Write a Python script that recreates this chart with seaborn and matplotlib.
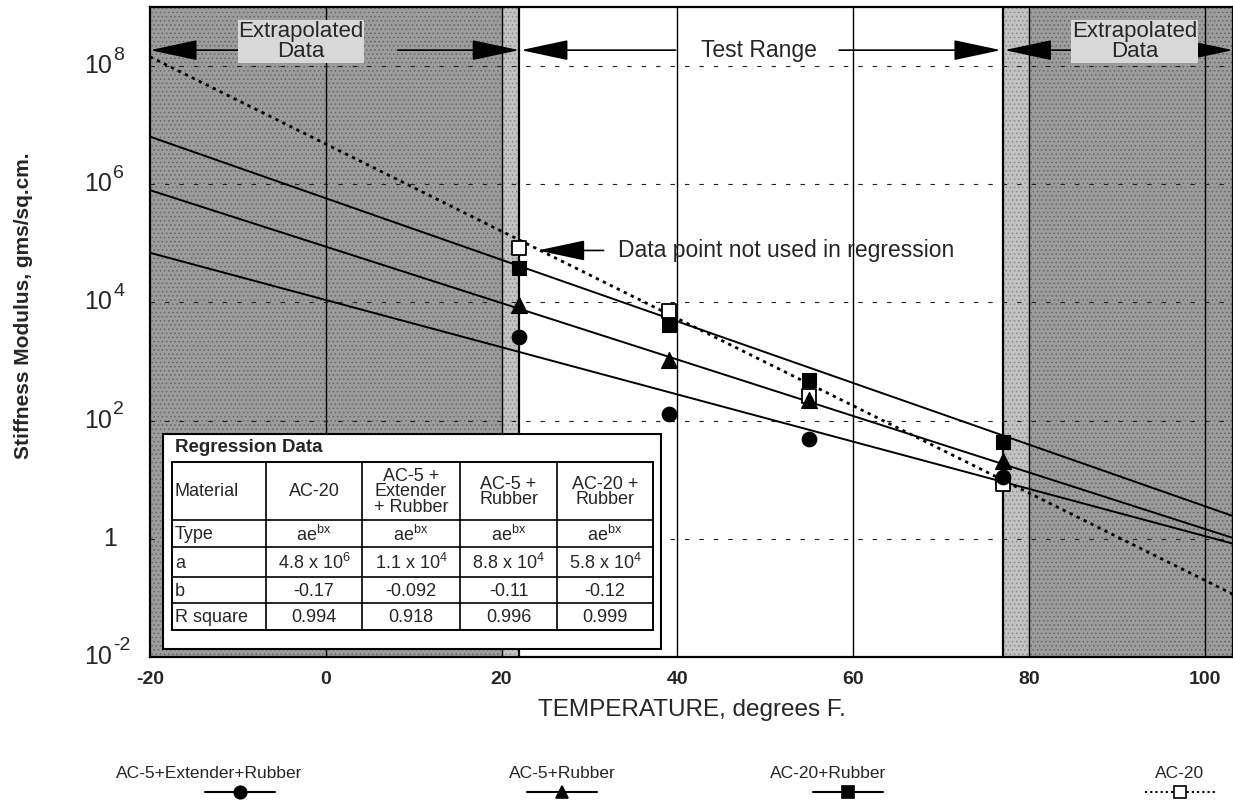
import numpy as np
import pandas as pd
import matplotlib
matplotlib.use("Agg")
import matplotlib.pyplot as plt
import seaborn as sns
from matplotlib.lines import Line2D
from matplotlib.patches import Rectangle
from matplotlib.ticker import FixedLocator, NullFormatter, LogLocator, MultipleLocator

# ---------------- data ----------------
temps = [22, 39, 55, 77]
ext_rubber = [2600, 130, 49, 11]          # AC-5+Extender+Rubber (filled circle)
ac5_rubber = [8900, 1050, 220, 21]        # AC-5+Rubber (filled triangle)
ac20_rubber = [39000, 4100, 480, 43]      # AC-20+Rubber (filled square)
ac20 = [85000, 7200, 260, 8.5]            # AC-20 (open square)

materials = ["AC-5+Extender+Rubber", "AC-5+Rubber", "AC-20+Rubber", "AC-20"]
fit_a = [1.1e4, 8.8e4, 5.8e5, 4.8e6]      # regression lines y = a*exp(b*x)
fit_b = [-0.092, -0.11, -0.12, -0.17]

x_ticks = [-20, 0, 20, 40, 60, 80, 100]
y_tick_vals = [1e-2, 1, 1e2, 1e4, 1e6, 1e8]
y_tick_base = ["10", "1", "10", "10", "10", "10"]
y_tick_exp = ["-2", "", "2", "4", "6", "8"]

table_title = "Regression Data"
table_cols = ["Material", "AC-20", "AC-5 +\nExtender\n+ Rubber", "AC-5 +\nRubber", "AC-20 +\nRubber"]
table_rows = [
    ["Type", "ae$^{bx}$", "ae$^{bx}$", "ae$^{bx}$", "ae$^{bx}$"],
    ["a", "4.8 x 10$^{6}$", "1.1 x 10$^{4}$", "8.8 x 10$^{4}$", "5.8 x 10$^{4}$"],
    ["b", "-0.17", "-0.092", "-0.11", "-0.12"],
    ["R square", "0.994", "0.918", "0.996", "0.999"],
]

# ---------------- style ----------------
sns.set_theme(style="white")
plt.rcParams["font.family"] = ["Liberation Sans", "DejaVu Sans"]
plt.rcParams["mathtext.fontset"] = "custom"
plt.rcParams["mathtext.rm"] = "Liberation Sans"
plt.rcParams["mathtext.it"] = "Liberation Sans"
plt.rcParams["mathtext.bf"] = "Liberation Sans:bold"
plt.rcParams["axes.unicode_minus"] = False
plt.rcParams["hatch.linewidth"] = 0.6

W, H = 1233, 802
fig = plt.figure(figsize=(W / 100, H / 100), dpi=100)
ax = fig.add_axes([150 / W, 1 - 657 / H, (W - 150) / W, 650 / H])

XMIN, XMAX = -20, 103.2
ax.set_xlim(XMIN, XMAX)
ax.set_yscale("log")
ax.set_ylim(1e-2, 1e9)

# shaded extrapolation zones
dark, light, hcol = "#9c9c9c", "#c2c2c2", "#666666"
ax.axvspan(XMIN, 20, facecolor=dark, edgecolor=hcol, hatch="....", lw=0, zorder=0)
ax.axvspan(20, 22, facecolor=light, edgecolor="#8a8a8a", hatch="....", lw=0, zorder=0)
ax.axvspan(77, 80, facecolor=light, edgecolor="#8a8a8a", hatch="....", lw=0, zorder=0)
ax.axvspan(80, XMAX, facecolor=dark, edgecolor=hcol, hatch="....", lw=0, zorder=0)

# grid lines
for xv in [0, 20, 40, 60, 80, 100]:
    ax.axvline(xv, color="black", lw=1.0, zorder=1)
for xv in [22, 77]:
    ax.axvline(xv, color="black", lw=1.6, zorder=1)
for yv in [1, 1e2, 1e4, 1e6, 1e8]:
    ax.axhline(yv, color="#222222", lw=0.8, ls=(0, (4, 9)), zorder=1)

# regression lines
xfit = np.linspace(XMIN, XMAX, 300)
line_styles = ["-", "-", "-", (0, (1.2, 1.6))]
line_widths = [1.4, 1.4, 1.4, 2.0]
for a, b, lsty, lw in zip(fit_a, fit_b, line_styles, line_widths):
    df_fit = pd.DataFrame({"T": xfit, "S": a * np.exp(b * xfit)})
    sns.lineplot(data=df_fit, x="T", y="S", ax=ax, color="black", lw=lw,
                 linestyle=lsty, zorder=3)

# data points
sns.scatterplot(x=temps, y=ac20, ax=ax, marker="s", s=110, facecolor="white",
                edgecolor="black", linewidth=1.3, zorder=4)
sns.scatterplot(x=temps, y=ac20_rubber, ax=ax, marker="s", s=95, color="black",
                edgecolor="black", zorder=5)
sns.scatterplot(x=temps, y=ac5_rubber, ax=ax, marker="^", s=130, color="black",
                edgecolor="black", zorder=5)
sns.scatterplot(x=temps, y=ext_rubber, ax=ax, marker="o", s=110, color="black",
                edgecolor="black", zorder=5)

# axes, ticks
ax.set_xticks(x_ticks)
ax.set_xticklabels([str(t) for t in x_ticks], fontsize=14, fontweight="bold")
ax.xaxis.set_minor_locator(MultipleLocator(10))
ax.yaxis.set_minor_locator(LogLocator(base=10, subs=np.arange(2, 10), numticks=100))
ax.yaxis.set_minor_formatter(NullFormatter())
decades = [10.0 ** k for k in range(-2, 10)]
ax.yaxis.set_major_locator(FixedLocator(decades))
ax.set_yticks(decades)
ax.set_yticklabels([""] * len(decades))
ytrans = ax.get_yaxis_transform()
for v, base, ex in zip(y_tick_vals, y_tick_base, y_tick_exp):
    if ex:
        ax.annotate(base, xy=(0, v), xycoords=ytrans, xytext=(-38, 0),
                    textcoords="offset pixels", ha="right", va="center", fontsize=18,
                    annotation_clip=False)
        ax.annotate(ex, xy=(0, v), xycoords=ytrans, xytext=(-37, 11),
                    textcoords="offset pixels", ha="left", va="center", fontsize=14,
                    annotation_clip=False)
    else:
        ax.annotate(base, xy=(0, v), xycoords=ytrans, xytext=(-33, 0),
                    textcoords="offset pixels", ha="right", va="center", fontsize=18,
                    annotation_clip=False)
ax.tick_params(axis="both", which="major", direction="in", length=8, width=1.2, color="black")
ax.tick_params(axis="both", which="minor", direction="in", length=4, width=1.0, color="black")
ax.tick_params(axis="x", which="major", pad=10)
for sp in ax.spines.values():
    sp.set_color("black")
    sp.set_linewidth(1.6)

ax.set_xlabel("TEMPERATURE, degrees F.", fontsize=17.5, labelpad=8)
ax.set_ylabel("Stiffness Modulus, gms/sq.cm.", fontsize=15, fontweight="bold")
ax.yaxis.set_label_coords(-0.108, 0.54)

# annotations
arrow_kw = dict(arrowstyle="-|>,head_length=1.5,head_width=0.32", color="black", lw=1.2,
                mutation_scale=20, shrinkA=0, shrinkB=0)
ya = 10 ** 8.27
ax.annotate("", xy=(XMIN, ya), xytext=(-8.0, ya), arrowprops=arrow_kw, zorder=6)
ax.annotate("", xy=(22, ya), xytext=(8.2, ya), arrowprops=arrow_kw, zorder=6)
ax.text(-2.8, 10 ** 8.42, "Extrapolated\nData", ha="center", va="center", fontsize=16,
        linespacing=0.95, bbox=dict(facecolor="#d8d8d8", edgecolor="none", pad=0.5), zorder=6)
ax.annotate("", xy=(22.2, ya), xytext=(39.8, ya), arrowprops=arrow_kw, zorder=6)
ax.annotate("", xy=(76.8, ya), xytext=(58.4, ya), arrowprops=arrow_kw, zorder=6)
ax.text(49.3, ya, "Test Range", ha="center", va="center", fontsize=16.5, zorder=6)
ax.annotate("", xy=(77.2, ya), xytext=(86.5, ya), arrowprops=arrow_kw, zorder=6)
ax.annotate("", xy=(XMAX, ya), xytext=(98.0, ya), arrowprops=arrow_kw, zorder=6)
ax.text(92.0, 10 ** 8.42, "Extrapolated\nData", ha="center", va="center", fontsize=16,
        linespacing=0.95, bbox=dict(facecolor="#d8d8d8", edgecolor="none", pad=0.5), zorder=6)

yd = 10 ** 4.88
ax.annotate("", xy=(24.1, yd), xytext=(31.6, yd), arrowprops=arrow_kw, zorder=6)
ax.text(33.2, yd, "Data point not used in regression", ha="left", va="center",
        fontsize=16.5, zorder=6)

# ---------------- regression table ----------------
tax = fig.add_axes([162 / W, 1 - 650 / H, 500 / W, 217 / H])
tax.set_xlim(162, 662)
tax.set_ylim(650, 433)
tax.axis("off")
tax.add_patch(Rectangle((163, 434), 498, 215, facecolor="white", edgecolor="black", lw=1.5))
col_edges = [172, 266, 362, 460, 557, 653]
row_edges = [462, 520, 547, 577, 603, 630]
tax.add_patch(Rectangle((col_edges[0], row_edges[0]), col_edges[-1] - col_edges[0],
                        row_edges[-1] - row_edges[0], facecolor="none", edgecolor="black", lw=1.4))
for xe in col_edges[1:-1]:
    tax.plot([xe, xe], [row_edges[0], row_edges[-1]], color="black", lw=1.2)
for ye in row_edges[1:-1]:
    tax.plot([col_edges[0], col_edges[-1]], [ye, ye], color="black", lw=1.2)
tax.text(175, 447, table_title, ha="left", va="center", fontsize=13.5, fontweight="bold")
fs_t = 13
for j, txt in enumerate(table_cols):
    yc = (row_edges[0] + row_edges[1]) / 2 + 1
    if j == 0:
        tax.text(col_edges[0] + 3, yc, txt, ha="left", va="center", fontsize=fs_t)
    else:
        tax.text((col_edges[j] + col_edges[j + 1]) / 2, yc, txt, ha="center", va="center",
                 fontsize=fs_t, linespacing=0.85)
for i, row in enumerate(table_rows):
    yc = (row_edges[i + 1] + row_edges[i + 2]) / 2 + 1
    for j, txt in enumerate(row):
        if j == 0:
            tax.text(col_edges[0] + 3, yc, txt, ha="left", va="center", fontsize=fs_t)
        else:
            tax.text((col_edges[j] + col_edges[j + 1]) / 2, yc, txt, ha="center", va="center",
                     fontsize=fs_t)

# ---------------- legend at bottom ----------------
leg_label_x = [209, 562, 828, 1180]
leg_marker_x = [240, 562, 848, 1180]
leg_markers = ["o", "^", "s", "s"]
leg_faces = ["black", "black", "black", "white"]
leg_ls = ["-", "-", "-", (0, (1, 1.5))]
y_lab = 1 - 773 / H
y_mark = 1 - 792 / H
for lab, xl, xm, mk, fc, lsty in zip(materials, leg_label_x, leg_marker_x, leg_markers,
                                      leg_faces, leg_ls):
    fig.text(xl / W, y_lab, lab, ha="center", va="center", fontsize=12.5)
    fig.lines.append(Line2D([(xm - 35) / W, (xm + 35) / W], [y_mark, y_mark],
                            transform=fig.transFigure, color="black", lw=1.5, linestyle=lsty))
    fig.lines.append(Line2D([xm / W], [y_mark], transform=fig.transFigure, marker=mk,
                            markersize=9, markerfacecolor=fc, markeredgecolor="black",
                            markeredgewidth=1.2, linestyle="none"))

fig.savefig("out.png", dpi=100)
